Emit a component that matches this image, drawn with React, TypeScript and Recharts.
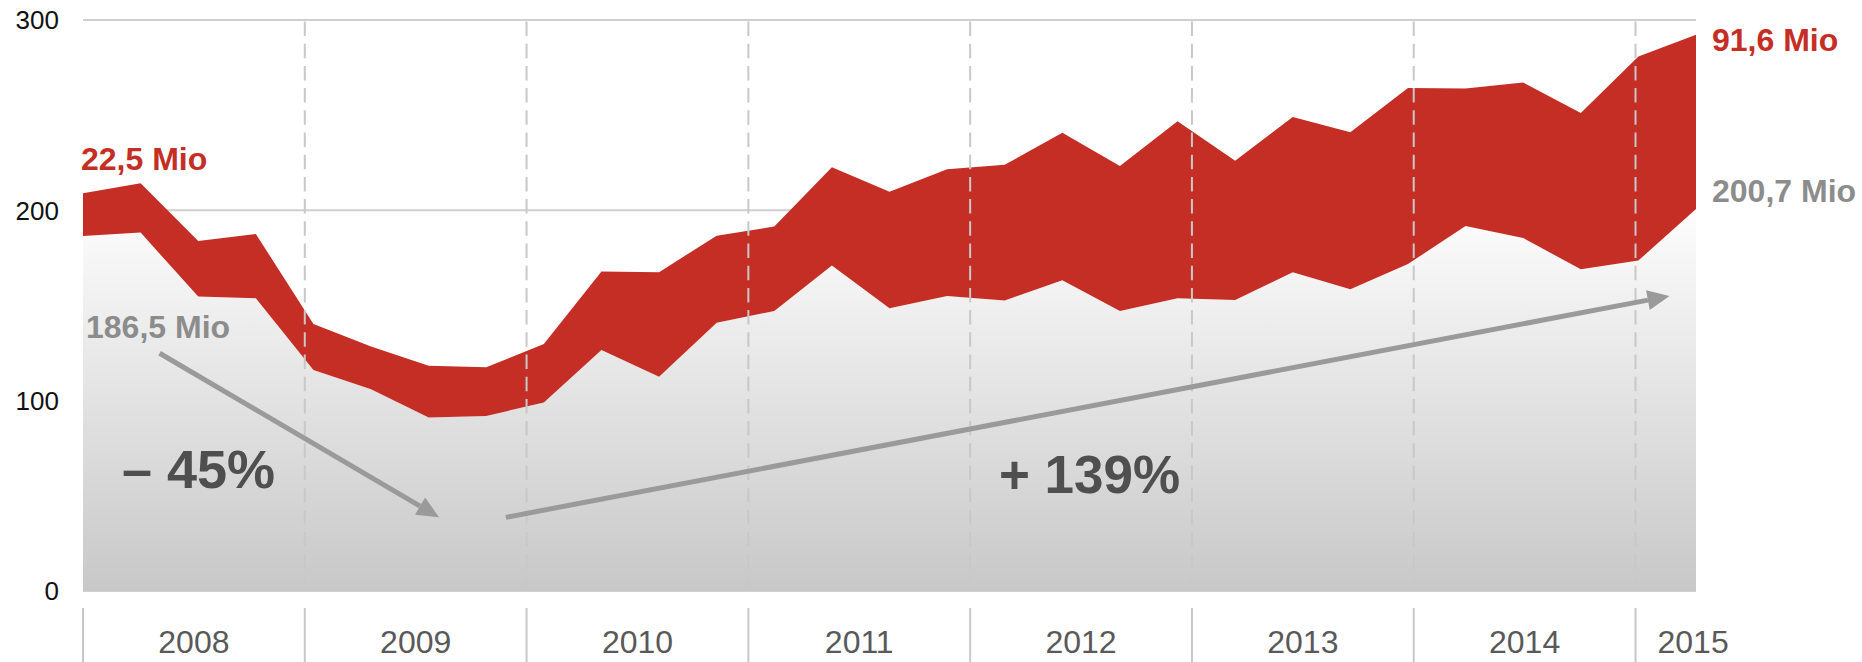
import { Area, AreaChart, CartesianGrid, ReferenceDot, ReferenceLine, XAxis, YAxis } from "recharts";

const quarters = [
  "2008 Q1", "2008 Q2", "2008 Q3", "2008 Q4",
  "2009 Q1", "2009 Q2", "2009 Q3", "2009 Q4",
  "2010 Q1", "2010 Q2", "2010 Q3", "2010 Q4",
  "2011 Q1", "2011 Q2", "2011 Q3", "2011 Q4",
  "2012 Q1", "2012 Q2", "2012 Q3", "2012 Q4",
  "2013 Q1", "2013 Q2", "2013 Q3", "2013 Q4",
  "2014 Q1", "2014 Q2", "2014 Q3", "2014 Q4",
  "2015 Q1",
];

// lower band (grey) and upper band (red), in Mio
const greyValues = [
  186.5, 188.3, 154.7, 153.8, 116.1, 106.0, 91.1, 92.0, 99.0, 126.6,
  112.6, 141.0, 147.1, 171.0, 148.5, 155.0, 152.6, 163.3, 147.1, 153.8,
  152.9, 167.5, 158.5, 171.8, 191.8, 185.5, 169.0, 173.6, 200.7,
];
const redValues = [
  22.5, 25.9, 29.2, 33.8, 24.2, 22.4, 27.3, 25.5, 30.8, 41.2,
  54.9, 45.7, 44.4, 51.6, 61.3, 66.6, 71.3, 77.4, 76.2, 93.0,
  73.1, 81.6, 82.5, 92.5, 72.2, 81.6, 82.2, 107.2, 91.6,
];

const years = ["2008", "2009", "2010", "2011", "2012", "2013", "2014", "2015"];
const yTicks = [0, 100, 200, 300];

const RED = "#c42e25";
const GREY_TEXT = "#8c8c8c";
const DARK = "#4f4f4f";
const FONT = "'Liberation Sans', Arial, sans-serif";

// year bands on the quarter axis
const YEAR_SPAN = 3.85;
const yearBounds = years.map((_, k) => k * YEAR_SPAN);
const yearCenters = years.map((_, k) => (k < 7 ? (k + 0.5) * YEAR_SPAN : 27.95));

const last = quarters.length - 1;
const data = quarters.map((q, i) => ({
  idx: i,
  quarter: q,
  grey: greyValues[i],
  red: redValues[i],
}));

// callouts: anchored on a data point, then nudged in pixels
const callouts = [
  { x: 0, y: greyValues[0] + redValues[0], dx: -2, dy: -23, text: "22,5 Mio", size: 32, color: RED },
  { x: 0, y: greyValues[0], dx: 3, dy: 102, text: "186,5 Mio", size: 32, color: GREY_TEXT },
  { x: last, y: greyValues[last] + redValues[last], dx: 16, dy: 16, text: "91,6 Mio", size: 32, color: RED },
  { x: last, y: greyValues[last], dx: 16, dy: -7, text: "200,7 Mio", size: 32, color: GREY_TEXT },
  { x: 0.66, y: 54.1, dx: 1, dy: 0, text: "– 45%", size: 54, color: DARK },
  { x: 15.83, y: 51.5, dx: 4, dy: 0, text: "+ 139%", size: 53, color: DARK },
];

function YearTick(props: any) {
  const { x, y, payload } = props;
  const k = yearCenters.indexOf(payload.value);
  if (k >= 0) {
    return (
      <text x={x} y={y + 62} textAnchor="middle" fontSize={32} fill="#595959" fontFamily={FONT}>
        {years[k]}
      </text>
    );
  }
  return <line x1={x} x2={x} y1={y + 17} y2={y + 71} stroke="#c8c8c8" strokeWidth={2} />;
}

function arrowShape(p: any) {
  const { x1, y1, x2, y2 } = p;
  const a = Math.atan2(y2 - y1, x2 - x1);
  const len = 22;
  const half = 10;
  const bx = x2 - len * Math.cos(a);
  const by = y2 - len * Math.sin(a);
  const nx = -Math.sin(a) * half;
  const ny = Math.cos(a) * half;
  return (
    <g>
      <line x1={x1} y1={y1} x2={bx} y2={by} stroke="#9a9a9a" strokeWidth={5} />
      <polygon points={`${x2},${y2} ${bx + nx},${by + ny} ${bx - nx},${by - ny}`} fill="#9a9a9a" />
    </g>
  );
}

export default function App() {
  return (
    <div style={{ position: "absolute", left: 0, top: 0, fontFamily: FONT }}>
      <AreaChart
        width={1862}
        height={662}
        data={data}
        margin={{ top: 20, right: 166, bottom: 0, left: 0 }}
      >
        <defs>
          <linearGradient id="greyFill" x1="0" y1="0" x2="0" y2="1">
            <stop offset="0%" stopColor="#fdfdfd" />
            <stop offset="100%" stopColor="#c8c8c8" />
          </linearGradient>
        </defs>
        <CartesianGrid vertical={false} stroke="#cfcfcf" strokeWidth={2} />
        <XAxis
          dataKey="idx"
          type="number"
          domain={[0, 28]}
          ticks={[...yearBounds, ...yearCenters]}
          interval={0}
          height={71}
          axisLine={false}
          tickLine={false}
          tickSize={0}
          tickMargin={0}
          tick={<YearTick />}
        />
        <YAxis
          type="number"
          domain={[0, 300]}
          ticks={yTicks}
          width={83}
          axisLine={false}
          tickLine={false}
          tickSize={0}
          tickMargin={24}
          tick={{ fontSize: 26, fill: "#111", fontFamily: FONT }}
        />
        <Area
          type="linear"
          dataKey="grey"
          stackId="1"
          stroke="none"
          fill="url(#greyFill)"
          fillOpacity={1}
          isAnimationActive={false}
        />
        <Area
          type="linear"
          dataKey="red"
          stackId="1"
          stroke="none"
          fill={RED}
          fillOpacity={1}
          isAnimationActive={false}
        />
        {yearBounds.slice(1).map((b) => (
          <ReferenceLine key={b} x={b} stroke="#c8c8c8" strokeWidth={2} strokeDasharray="14.5 7.7" />
        ))}
        <ReferenceLine
          segment={[{ x: 1.33, y: 124.9 }, { x: 6.18, y: 38.7 }]}
          shape={arrowShape}
        />
        <ReferenceLine
          segment={[{ x: 7.34, y: 38.7 }, { x: 27.54, y: 155.0 }]}
          shape={arrowShape}
        />
        {callouts.map((c) => (
          <ReferenceDot
            key={c.text}
            x={c.x}
            y={c.y}
            r={0}
            ifOverflow="visible"
            shape={(p: any) => (
              <text
                x={p.cx + c.dx}
                y={p.cy + c.dy}
                fontSize={c.size}
                fontWeight="bold"
                fill={c.color}
                fontFamily={FONT}
              >
                {c.text}
              </text>
            )}
          />
        ))}
      </AreaChart>
    </div>
  );
}
